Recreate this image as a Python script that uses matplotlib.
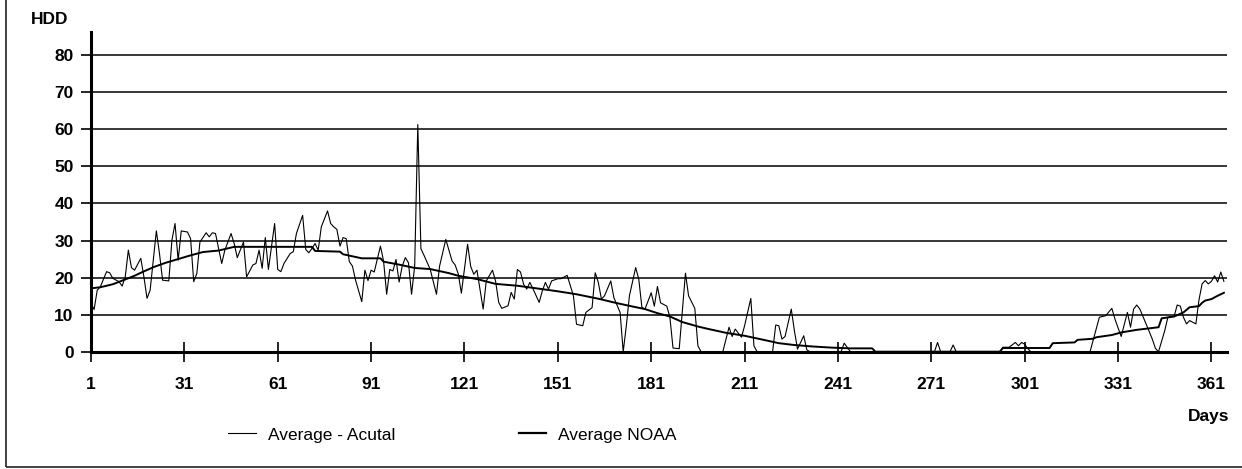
import matplotlib
matplotlib.use("Agg")
import matplotlib.pyplot as plt
from matplotlib.lines import Line2D
from matplotlib.patches import Rectangle

plt.rcParams["font.family"] = ["Liberation Sans", "DejaVu Sans"]

# daily HDD (day, value)
actual_days = [
    1, 2, 3, 4, 6, 7, 8, 10, 11, 12, 13, 14, 15, 17, 18, 19, 20, 22, 23, 24,
    26, 27, 28, 29, 30, 32, 33, 34, 35, 36, 38, 39, 40, 41, 43, 44, 46, 47, 48, 50,
    51, 53, 54, 55, 56, 57, 58, 60, 61, 62, 63, 65, 66, 67, 69, 70, 71, 72, 73, 74,
    75, 77, 78, 79, 80, 81, 82, 83, 84, 85, 86, 88, 89, 90, 91, 92, 94, 95, 96, 97,
    98, 99, 100, 101, 102, 103, 104, 105, 106, 107, 108, 110, 112, 113, 115, 117, 118, 119, 120, 122,
    123, 124, 125, 127, 128, 130, 131, 132, 133, 135, 136, 137, 138, 139, 140, 141, 142, 143, 145, 146,
    147, 148, 149, 151, 152, 154, 156, 157, 159, 160, 162, 163, 164, 165, 166, 168, 169, 171, 172, 173,
    174, 176, 177, 178, 179, 181, 182, 183, 184, 186, 187, 188, 190, 192, 193, 195, 196, 197, 204, 206,
    207, 208, 210, 211, 213, 214, 215, 220, 221, 222, 223, 224, 226, 227, 228, 230, 231, 232, 242, 243,
    245, 272, 273, 274, 277, 278, 279, 293, 294, 296, 298, 299, 300, 301, 302, 303, 322, 325, 327, 329,
    330, 332, 334, 335, 336, 337, 338, 340, 342, 343, 344, 346, 347, 349, 350, 351, 352, 353, 354, 356,
    357, 358, 359, 360, 361, 362, 363, 364, 365,
]
actual_hdd = [
    13.0, 11.4, 16.6, 17.5, 21.6, 21.3, 19.8, 18.9, 17.7, 20.2, 27.4, 22.7, 22.0, 25.2, 20.2, 14.4, 16.6, 32.6, 26.5, 19.3,
    19.1, 30.1, 34.6, 24.7, 32.6, 32.3, 30.5, 18.9, 21.1, 29.6, 32.1, 31.0, 32.1, 31.9, 23.8, 27.4, 31.9, 29.2, 25.4, 29.6,
    20.2, 23.4, 23.8, 27.4, 22.5, 30.8, 22.2, 34.6, 22.2, 21.6, 23.8, 26.5, 27.0, 31.9, 36.8, 27.6, 26.7, 27.9, 29.2, 27.4,
    33.7, 38.0, 34.6, 33.7, 33.0, 28.5, 30.8, 30.5, 24.3, 23.1, 19.3, 13.5, 22.0, 19.2, 22.0, 21.5, 28.5, 24.5, 15.5, 22.2,
    21.8, 24.9, 18.8, 23.1, 25.4, 24.0, 15.5, 23.1, 61.3, 27.8, 26.0, 22.2, 15.5, 23.1, 30.3, 24.5, 23.4, 21.0, 15.8, 29.0,
    23.0, 20.9, 22.0, 11.5, 19.1, 22.0, 19.0, 13.3, 11.7, 12.4, 16.0, 14.2, 22.2, 21.5, 18.2, 16.9, 18.7, 17.0, 13.3, 16.4,
    18.7, 16.9, 19.1, 19.7, 19.7, 20.6, 15.1, 7.4, 7.0, 10.6, 11.9, 21.3, 18.7, 14.2, 15.1, 19.1, 14.6, 10.6, 0.0, 7.0,
    15.1, 22.7, 19.6, 12.0, 11.5, 15.9, 12.3, 17.6, 13.2, 12.3, 9.3, 1.0, 0.8, 21.2, 15.1, 11.7, 1.6, 0.0, 0.0, 6.6,
    4.1, 6.1, 3.9, 7.0, 14.4, 1.6, 0.0, 0.0, 7.2, 7.0, 3.4, 4.1, 11.5, 5.7, 0.7, 4.3, 0.5, 0.0, 0.0, 2.3,
    0.0, 0.0, 2.5, 0.0, 0.0, 1.8, 0.0, 0.0, 1.2, 1.2, 2.5, 1.6, 2.5, 2.0, 0.8, 0.0, 0.0, 9.3, 9.7, 11.7,
    8.8, 4.1, 10.6, 6.6, 11.5, 12.6, 11.5, 7.5, 3.4, 0.9, 0.0, 5.7, 9.3, 9.5, 12.6, 12.3, 9.3, 7.5, 8.4, 7.5,
    14.0, 18.3, 19.2, 18.3, 19.0, 20.5, 18.8, 21.5, 19.0,
]

noaa_days = [
    1, 4, 8, 12, 15, 17, 21, 25, 29, 33, 37, 42, 47, 72, 73, 81, 82, 88, 94, 95,
    100, 105, 110, 116, 119, 125, 131, 138, 145, 151, 157, 164, 170, 175, 179, 183, 187, 191, 196, 199,
    205, 211, 216, 222, 227, 233, 239, 245, 252, 253, 293, 294, 309, 310, 317, 318, 323, 324, 329, 332,
    337, 339, 344, 345, 349, 352, 354, 357, 358, 359, 361, 363, 365,
]
noaa_hdd = [
    17.1, 17.4, 18.2, 19.5, 20.5, 21.3, 22.8, 24.0, 25.0, 26.0, 26.9, 27.3, 28.3, 28.3, 27.2, 27.0, 26.3, 25.2, 25.2, 24.3,
    23.5, 22.6, 22.3, 21.2, 20.5, 19.6, 18.3, 17.8, 17.0, 16.3, 15.5, 14.3, 13.1, 12.2, 11.5, 10.4, 9.5, 8.0, 6.8, 6.2,
    5.1, 4.3, 3.4, 2.3, 1.8, 1.4, 1.1, 0.9, 0.9, 0.0, 0.0, 1.0, 1.0, 2.3, 2.5, 3.2, 3.5, 3.9, 4.5, 5.2,
    5.9, 6.1, 6.6, 9.0, 9.5, 10.6, 12.0, 12.3, 13.2, 13.8, 14.2, 15.1, 15.9,
]

x_ticks = list(range(1, 362, 30))
y_ticks = list(range(0, 81, 10))

W, H = 1242, 469
fig = plt.figure(figsize=(W / 100, H / 100), dpi=100)
ax = fig.add_axes([91 / W, 1 - 351.7 / H, (1227 - 91) / W, (351.7 - 32.3) / H])

ax.plot(actual_days, actual_hdd, color="black", lw=0.8, label="Average - Acutal")
ax.plot(noaa_days, noaa_hdd, color="black", lw=1.4, label="Average NOAA")

ax.set_xlim(1, 366)
ax.set_ylim(0, 86.2)
ax.set_xticks(x_ticks)
ax.set_yticks(y_ticks)
ax.grid(axis="y", color="black", lw=1.1)
ax.set_axisbelow(True)

for s in ["top", "right"]:
    ax.spines[s].set_visible(False)
for s in ["left", "bottom"]:
    ax.spines[s].set_linewidth(2.2)

ax.tick_params(axis="y", direction="out", length=7.5, width=1.2, pad=5,
               labelsize=12.5)
ax.tick_params(axis="x", direction="inout", length=15, width=1.2, pad=11,
               labelsize=12.5)
for lab in ax.get_xticklabels() + ax.get_yticklabels():
    lab.set_fontweight("bold")

fig.text(31 / W, 1 - 19.7 / H, "HDD", ha="left", va="center",
         fontsize=12.5, fontweight="bold")
fig.text(1229 / W, 1 - 416 / H, "Days", ha="right", va="center",
         fontsize=12.5, fontweight="bold")

handles = [Line2D([], [], color="black", lw=0.8),
           Line2D([], [], color="black", lw=1.6)]
fig.legend(handles, ["Average - Acutal", "Average NOAA"], ncol=2,
           loc="center left", bbox_to_anchor=(228 / W, 1 - 435 / H),
           frameon=False, fontsize=12.5, handlelength=1.6, handletextpad=0.7,
           columnspacing=7.1, borderpad=0, borderaxespad=0)

# outer frame of the scanned figure
fig.add_artist(Rectangle((6 / W, 1 - 467 / H), 2, 2, transform=fig.transFigure,
                         fill=False, ec="#333333", lw=1.3))

fig.savefig("out.png", dpi=100)
